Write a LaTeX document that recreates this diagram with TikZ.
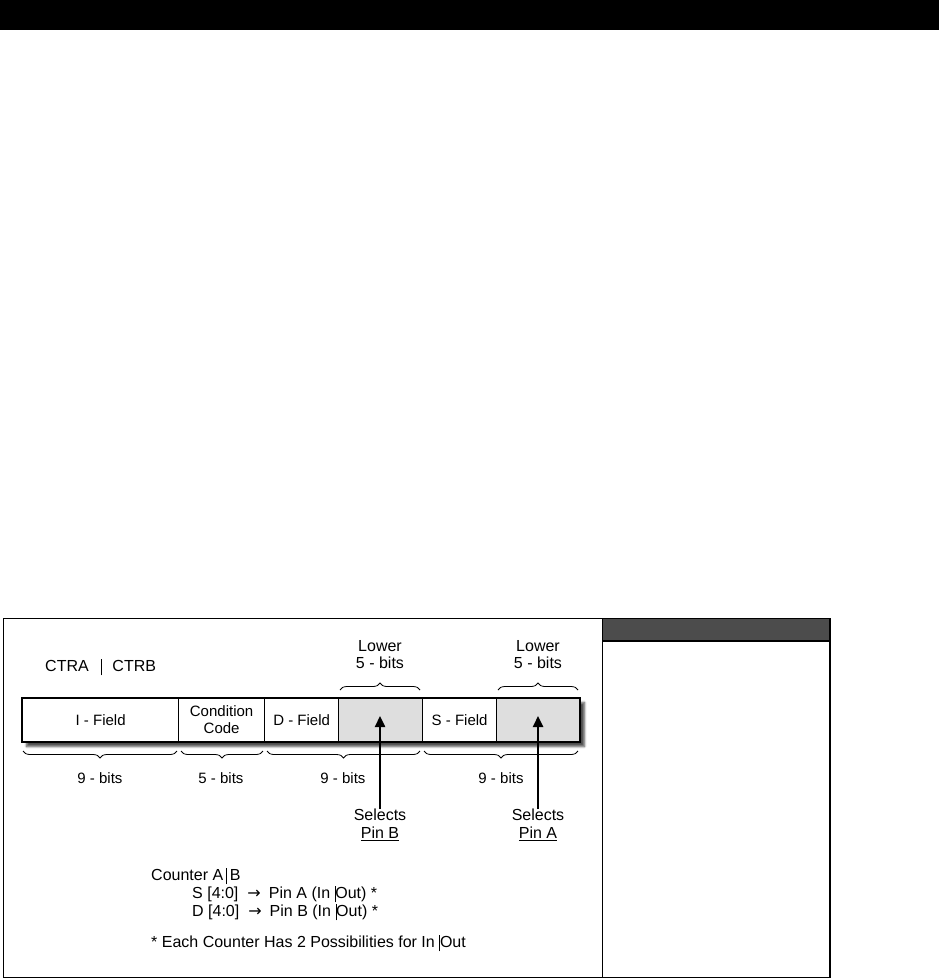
\documentclass[tikz,border=0pt]{standalone}
\usepackage{fontspec}
\setmainfont{Liberation Sans}
\newfontfamily\arrfont{DejaVu Sans}
\usetikzlibrary{shadows.blur,decorations.pathreplacing,arrows.meta}
\newcommand\vb{\rule[-3.5pt]{0.7pt}{16.5pt}}
\newcommand\rarr{\hspace{9pt}{\arrfont →}\hspace{8pt}}
\begin{document}
\begin{tikzpicture}[x=1pt,y=-1pt,
  every node/.style={font=\fontsize{15}{17}\selectfont},
  notes/.style={inner sep=0pt,anchor=west,font=\fontsize{16}{18}\selectfont},
  cell/.style={draw=black,line width=1.2pt,minimum height=44pt,inner sep=0pt,anchor=west},
  lowcell/.style={cell,fill=black!13},
  brc/.style={decorate,decoration={brace,amplitude=7pt},line width=0.8pt},
  brcb/.style={decorate,decoration={brace,amplitude=7pt,mirror},line width=0.8pt},
  sel/.style={line width=2.4pt,-{Triangle[length=11pt,width=10pt]}},
  txt/.style={inner sep=0pt,align=center}]
\useasboundingbox (0,0) rectangle (939,979);
% top bar
\fill[black] (0,0) rectangle (939,30);
% frames
\draw[line width=1.3pt] (3.5,618.5) rectangle (602.5,977.5);
\draw[line width=1.3pt,fill=black!70] (602.5,618.5) rectangle (830,641);
\draw[line width=1.3pt] (602.5,641) rectangle (830,977.5);
% register
\node[draw,line width=2pt,fill=white,minimum width=558pt,minimum height=44pt,inner sep=0pt,
  blur shadow={shadow xshift=4.5pt,shadow yshift=-4.5pt,shadow blur steps=8,shadow opacity=70}] (reg) at (301,720) {};
\node[cell,minimum width=156pt] (ifield) at (22,720) {I - Field};
\node[cell,minimum width=86pt,align=center] (cc) at (178,720) {Condition\\Code};
\node[cell,minimum width=74pt] (dfield) at (264,720) {D - Field};
\node[lowcell,minimum width=84pt] (dlow) at (338,720) {};
\node[cell,minimum width=74pt] (sfield) at (422,720) {S - Field};
\node[lowcell,minimum width=84pt] (slow) at (496,720) {};
\node[draw,line width=2pt,minimum width=558pt,minimum height=44pt,inner sep=0pt] (regb) at (301,720) {};
% CTRA | CTRB
\node[notes] (ctr) at (45,667) {CTRA\hspace{12pt}\vb\hspace{11pt}CTRB};
% top braces
\coordinate (tb1) at (340,690); \coordinate (tb2) at (420,690);
\coordinate (tb3) at (498,690); \coordinate (tb4) at (578,690);
\draw[brc] (tb1) -- (tb2);
\draw[brc] (tb3) -- (tb4);
\node[txt,font=\fontsize{16}{17}\selectfont] (lowB) at (380,655) {Lower\\5 - bits};
\node[txt,font=\fontsize{16}{17}\selectfont] (lowA) at (538,655) {Lower\\5 - bits};
% bottom braces
\coordinate (b1) at (23,751); \coordinate (b2) at (177,751);
\coordinate (b3) at (181,751); \coordinate (b4) at (263,751);
\coordinate (b5) at (267,751); \coordinate (b6) at (420,751);
\coordinate (b7) at (424,751); \coordinate (b8) at (578,751);
\draw[brcb] (b1) -- (b2);
\draw[brcb] (b3) -- (b4);
\draw[brcb] (b5) -- (b6);
\draw[brcb] (b7) -- (b8);
\node[txt] (bits1) at (100,778) {9 - bits};
\node[txt] (bits2) at (221,778) {5 - bits};
\node[txt] (bits3) at (343,778) {9 - bits};
\node[txt] (bits4) at (501,778) {9 - bits};
% selects
\node[txt,font=\fontsize{16}{18}\selectfont] (selB) at (380,825) {Selects\\\underline{Pin B}};
\node[txt,font=\fontsize{16}{18}\selectfont] (selA) at (538,825) {Selects\\\underline{Pin A}};
\coordinate (tipB) at (380,716);
\coordinate (tipA) at (538,716);
\draw[sel] (selB.north) -- (tipB);
\draw[sel] (selA.north) -- (tipA);
% notes
\node[notes] (cnt) at (151,876) {Counter A\hspace{3pt}\vb\hspace{3pt}B};
\node[notes] (sl) at (192,894) {S [4:0]\rarr Pin A (In \vb Out) *};
\node[notes] (dl) at (192,912) {D [4:0]\rarr Pin B (In \vb Out) *};
\node[notes] (fn) at (151,943) {* Each Counter Has 2 Possibilities for In \vb Out};
\end{tikzpicture}
\end{document}
